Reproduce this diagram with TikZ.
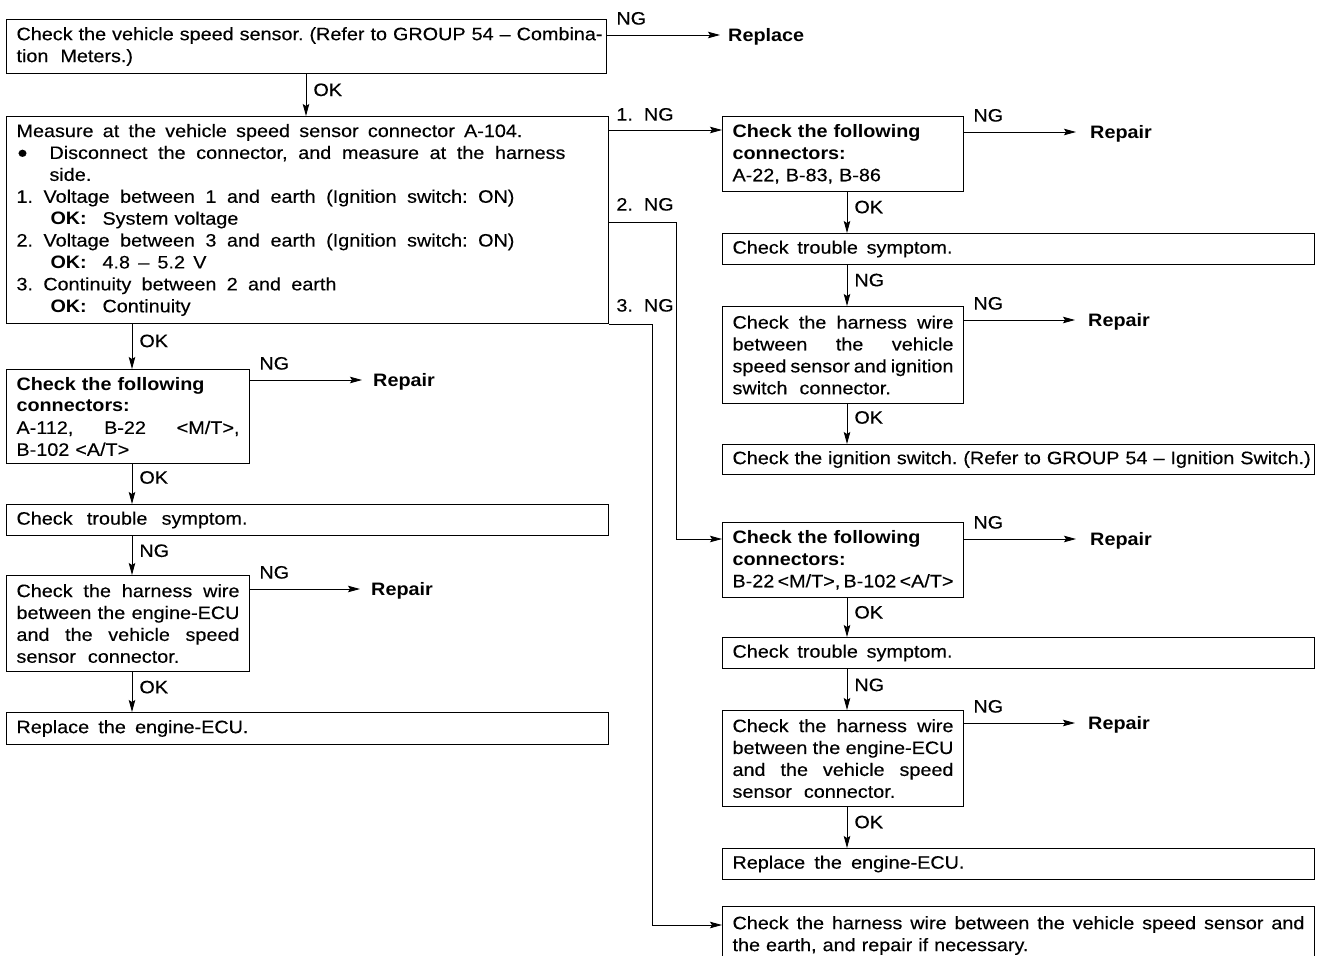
\documentclass[tikz,border=0pt]{standalone}
\usepackage{fontspec}
\setmainfont{Liberation Sans}[FakeStretch=1.1, UprightFeatures={FakeBold=0.3}]
\usetikzlibrary{arrows.meta}
% body text size and line spacing
\newcommand\bodysize{\fontsize{18pt}{21.9pt}\selectfont}
% a line stretched to a given width / to the full text width
\newcommand\jw[2]{\makebox[#1][s]{\spaceskip=.3em plus 1fil minus .15em\relax #2}}
\newcommand\jfull[1]{\jw{\hsize}{#1}}
% an "OK:" lead-in of fixed width
\newcommand\okl{\hspace*{34pt}\makebox[52pt][l]{\textbf{OK:}}}
% a large round bullet, centred on the x-height
\newcommand\bigdot{\raisebox{-3pt}{\scalebox{1.45}{\textbullet}}}
\begin{document}
\frenchspacing
\begin{tikzpicture}[x=1pt,y=-1pt,
  box/.style={draw, line width=1pt, anchor=north west, inner xsep=10pt,
              inner ysep=0pt, align=left, font=\bodysize},
  wire/.style={line width=0.85pt},
  arr/.style={wire, -{Stealth[length=12pt,width=6.5pt,inset=2pt]}},
  tag/.style={inner sep=0pt, text height=13pt, text depth=0pt, font=\bodysize},
  ng/.style={tag, anchor=south west, xshift=9pt, yshift=10pt},
  vlab/.style={tag, anchor=west, xshift=7pt},
  result/.style={tag, anchor=west, font=\bodysize\bfseries},
]
\useasboundingbox (0,0) rectangle (1324,955);
\clip (0,0) rectangle (1324,955);

% ---------- left column ----------
\node[box, text width=580pt, minimum height=54pt] (b1) at (6,19)
  {\mbox{Check the vehicle speed sensor. (Refer to GROUP 54 – Combina-}\\
   \mbox{tion\ \ Meters.)}};

\node[box, text width=582pt, minimum height=207pt] (b2) at (6,116)
  {\jw{506pt}{Measure at the vehicle speed sensor connector A-104.}\\
   \makebox[33pt][l]{\hspace{1pt}\bigdot}\jw{516pt}{Disconnect the connector, and measure at the harness}\\
   \hspace*{33pt}side.\\
   \jw{498pt}{1. Voltage between 1 and earth (Ignition switch: ON)}\\
   \okl System voltage\\
   \jw{498pt}{2. Voltage between 3 and earth (Ignition switch: ON)}\\
   \okl\jw{104pt}{4.8 – 5.2 V}\\
   \jw{320pt}{3. Continuity between 2 and earth}\\
   \okl Continuity};

\node[box, text width=223pt, minimum height=94pt] (b12) at (6,369)
  {\textbf{Check the following}\\
   \textbf{connectors:}\\
   \jfull{A-112, B-22 <M/T>,}\\
   B-102 <A/T>};

\node[box, text width=582pt, minimum height=31pt] (b13) at (6,504)
  {\jw{231pt}{Check trouble symptom.}};

\node[box, text width=223pt, minimum height=96pt] (b14) at (6,575)
  {\jfull{Check the harness wire}\\
   \jfull{between the engine-ECU}\\
   \jfull{and the vehicle speed}\\
   sensor\ \ connector.};

\node[box, text width=582pt, minimum height=32pt] (b15) at (6,712)
  {\jw{232pt}{Replace the engine-ECU.}};

% ---------- right column ----------
\node[box, text width=221pt, minimum height=75pt] (b3) at (722,116)
  {\textbf{Check the following}\\
   \textbf{connectors:}\\
   A-22, B-83, B-86};

\node[box, text width=572pt, minimum height=31pt] (b4) at (722,233)
  {\jw{220pt}{Check trouble symptom.}};

\node[box, text width=221pt, minimum height=97pt] (b5) at (722,306)
  {\jfull{Check the harness wire}\\
   \jfull{between the vehicle}\\
   \jfull{speed sensor and ignition}\\
   switch\ \ connector.};

\node[box, text width=572pt, minimum height=30pt] (b6) at (722,444)
  {\mbox{Check the ignition switch. (Refer to GROUP 54 – Ignition Switch.)}};

\node[box, text width=221pt, minimum height=75pt] (b7) at (722,522)
  {\textbf{Check the following}\\
   \textbf{connectors:}\\
   \jfull{B-22 <M/T>, B-102 <A/T>}};

\node[box, text width=572pt, minimum height=31pt] (b8) at (722,637)
  {\jw{220pt}{Check trouble symptom.}};

\node[box, text width=221pt, minimum height=96pt] (b9) at (722,710)
  {\jfull{Check the harness wire}\\
   \jfull{between the engine-ECU}\\
   \jfull{and the vehicle speed}\\
   sensor\ \ connector.};

\node[box, text width=572pt, minimum height=31pt] (b10) at (722,848)
  {\jw{232pt}{Replace the engine-ECU.}};

\node[box, text width=572pt, minimum height=58pt] (b11) at (722,906)
  {\jfull{Check the harness wire between the vehicle speed sensor and}\\
   the earth, and repair if necessary.};

% ---------- outcomes ----------
\node[result] (r1)  at (728,35)   {Replace};
\node[result] (r3)  at (1090,132) {Repair};
\node[result] (r5)  at (1088,320) {Repair};
\node[result] (r7)  at (1090,539) {Repair};
\node[result] (r9)  at (1088,723) {Repair};
\node[result] (r12) at (373,380)  {Repair};
\node[result] (r14) at (371,589)  {Repair};

% ---------- NG branches to the outcomes ----------
\draw[arr, shorten >=8pt]  (b1.east |- r1.west)  node[ng]{NG} -- (r1.west);
\draw[arr, shorten >=14pt] (b3.east |- r3.west)  node[ng]{NG} -- (r3.west);
\draw[arr, shorten >=13pt] (b5.east |- r5.west)  node[ng]{NG} -- (r5.west);
\draw[arr, shorten >=14pt] (b7.east |- r7.west)  node[ng]{NG} -- (r7.west);
\draw[arr, shorten >=13pt] (b9.east |- r9.west)  node[ng]{NG} -- (r9.west);
\draw[arr, shorten >=11pt] (b12.east |- r12.west) node[ng]{NG} -- (r12.west);
\draw[arr, shorten >=11pt] (b14.east |- r14.west) node[ng]{NG} -- (r14.west);

% ---------- vertical flow, left column ----------
\draw[arr] ([xshift=300pt]b1.south west) -- node[vlab, pos=0.37]{OK} ([xshift=300pt]b2.north west);
\draw[arr] ([xshift=126pt]b2.south west) -- node[vlab, pos=0.37]{OK} ([xshift=126pt]b12.north west);
\draw[arr] ([xshift=126pt]b12.south west) -- node[vlab, pos=0.33]{OK} ([xshift=126pt]b13.north west);
\draw[arr] ([xshift=126pt]b13.south west) -- node[vlab, pos=0.37]{NG} ([xshift=126pt]b14.north west);
\draw[arr] ([xshift=126pt]b14.south west) -- node[vlab, pos=0.37]{OK} ([xshift=126pt]b15.north west);

% ---------- vertical flow, right column ----------
\draw[arr] ([xshift=125pt]b3.south west) -- node[vlab, pos=0.36]{OK} ([xshift=125pt]b4.north west);
\draw[arr] ([xshift=125pt]b4.south west) -- node[vlab, pos=0.36]{NG} ([xshift=125pt]b5.north west);
\draw[arr] ([xshift=125pt]b5.south west) -- node[vlab, pos=0.33]{OK} ([xshift=125pt]b6.north west);
\draw[arr] ([xshift=125pt]b7.south west) -- node[vlab, pos=0.36]{OK} ([xshift=125pt]b8.north west);
\draw[arr] ([xshift=125pt]b8.south west) -- node[vlab, pos=0.38]{NG} ([xshift=125pt]b9.north west);
\draw[arr] ([xshift=125pt]b9.south west) -- node[vlab, pos=0.36]{OK} ([xshift=125pt]b10.north west);

% ---------- numbered NG branches from the measurement ----------
\coordinate (in3)  at ([yshift=-14pt]b3.north west);
\coordinate (in7)  at ([yshift=-17pt]b7.north west);
\coordinate (in11) at ([yshift=-19pt]b11.north west);
\coordinate (k2) at (676,222);
\coordinate (k3) at (652,0);

\draw[arr] (b2.east |- in3) node[ng, xshift=-2pt, yshift=-1pt]{1.\ \ NG} -- (in3);
\draw[arr] (b2.east |- k2) node[ng, xshift=-2pt, yshift=1pt]{2.\ \ NG} -- (k2) |- (in7);
\draw[arr] (b2.south east) node[ng, xshift=-2pt, yshift=2pt]{3.\ \ NG} -- (b2.south -| k3) |- (in11);
\end{tikzpicture}
\end{document}
